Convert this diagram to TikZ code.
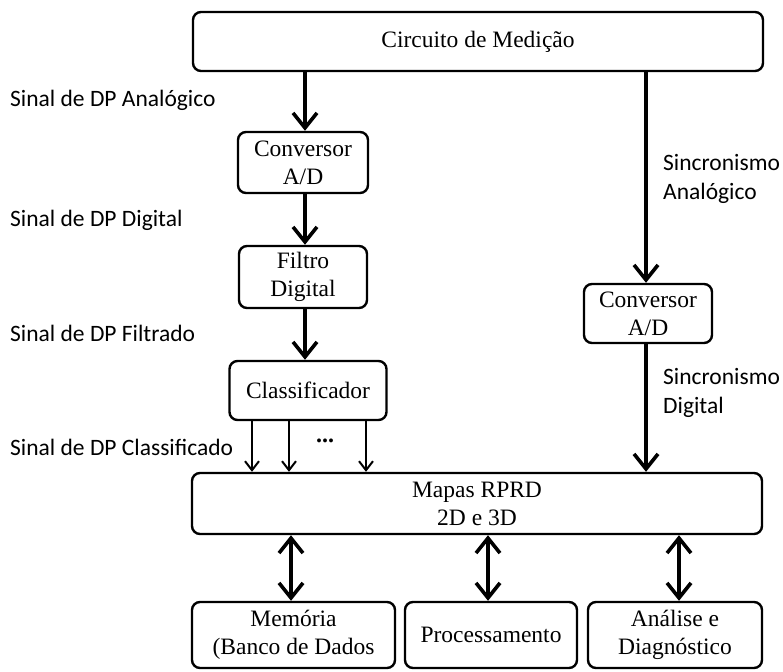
\documentclass[tikz,border=0pt]{standalone}
\usepackage{fontspec}
\setmainfont{Liberation Serif}
\newfontfamily\labelfont{Carlito}
\usetikzlibrary{arrows.meta}
\begin{document}
\begin{tikzpicture}[x=1pt,y=-1pt,
  block/.style={draw, line width=2.4pt, rounded corners=8pt, align=center,
    inner sep=0pt, font=\fontsize{23.5}{28}\selectfont},
  sig/.style={anchor=west, align=left, inner sep=0pt,
    font=\labelfont\fontsize{23.5}{28.5}\selectfont},
  flow/.style={line width=4pt, -{Straight Barb[length=15pt,width=24pt,line width=3.6pt]}},
  both/.style={line width=4pt, {Straight Barb[length=15pt,width=24pt,line width=3.6pt]}-{Straight Barb[length=15pt,width=24pt,line width=3.6pt]}},
  branch/.style={line width=2pt, -{Straight Barb[length=9pt,width=14pt,line width=2pt]}}]
\useasboundingbox (0,0) rectangle (783,671);

% blocks
\node[block, minimum width=570pt, minimum height=59pt] (top) at (478,41.5) {Circuito de Medição};
\node[block, minimum width=130pt, minimum height=61pt] (conv1) at (303,162.5) {Conversor\\A/D};
\node[block, minimum width=128pt, minimum height=62pt] (filt) at (303,277) {Filtro\\Digital};
\node[block, minimum width=157pt, minimum height=59pt] (cls) at (308,390.5) {Classificador};
\node[block, minimum width=128pt, minimum height=59pt] (conv2) at (648,313.5) {Conversor\\A/D};
\node[block, minimum width=570pt, minimum height=61pt] (maps) at (477,503.5) {Mapas RPRD\\2D e 3D};
\node[block, minimum width=203pt, minimum height=66pt] (mem) at (293.5,635) {Memória\\(Banco de Dados};
\node[block, minimum width=172pt, minimum height=66pt] (proc) at (491,635) {Processamento};
\node[block, minimum width=174pt, minimum height=66pt] (anal) at (675,635) {Análise e\\Diagnóstico};

% signal labels
\node[sig] (l1) at (10,100) {Sinal de DP Analógico};
\node[sig] (l2) at (10,220) {Sinal de DP Digital};
\node[sig] (l3) at (10,333) {Sinal de DP Filtrado};
\node[sig] (l4) at (10,447) {Sinal de DP Classificado};
\node[sig] (s1) at (663,179) {Sincronismo\\Analógico};
\node[sig] (s2) at (663,393) {Sincronismo\\Digital};
\node[font=\bfseries\fontsize{24}{26}\selectfont, inner sep=0pt] (dots) at (325,441) {...};

% main signal chain
\coordinate (xa) at (305,0);
\draw[flow] (top.south -| xa) -- (conv1.north -| xa);
\draw[flow] (conv1.south -| xa) -- (filt.north -| xa);
\draw[flow] (filt.south -| xa) -- (cls.north -| xa);

% synchronism chain
\coordinate (xs) at (646,0);
\draw[flow] (top.south -| xs) -- (conv2.north -| xs);
\draw[flow] (conv2.south -| xs) -- (maps.north -| xs);

% classified outputs
\coordinate (b1) at (252,0);
\coordinate (b2) at (289,0);
\coordinate (b3) at (366,0);
\foreach \b in {b1,b2,b3}
  \draw[branch] (cls.south -| \b) -- (maps.north -| \b);

% bidirectional links to the lower blocks
\coordinate (d1) at (291,0);
\coordinate (d2) at (488,0);
\coordinate (d3) at (679,0);
\draw[both] (maps.south -| d1) -- (mem.north -| d1);
\draw[both] (maps.south -| d2) -- (proc.north -| d2);
\draw[both] (maps.south -| d3) -- (anal.north -| d3);
\end{tikzpicture}
\end{document}
